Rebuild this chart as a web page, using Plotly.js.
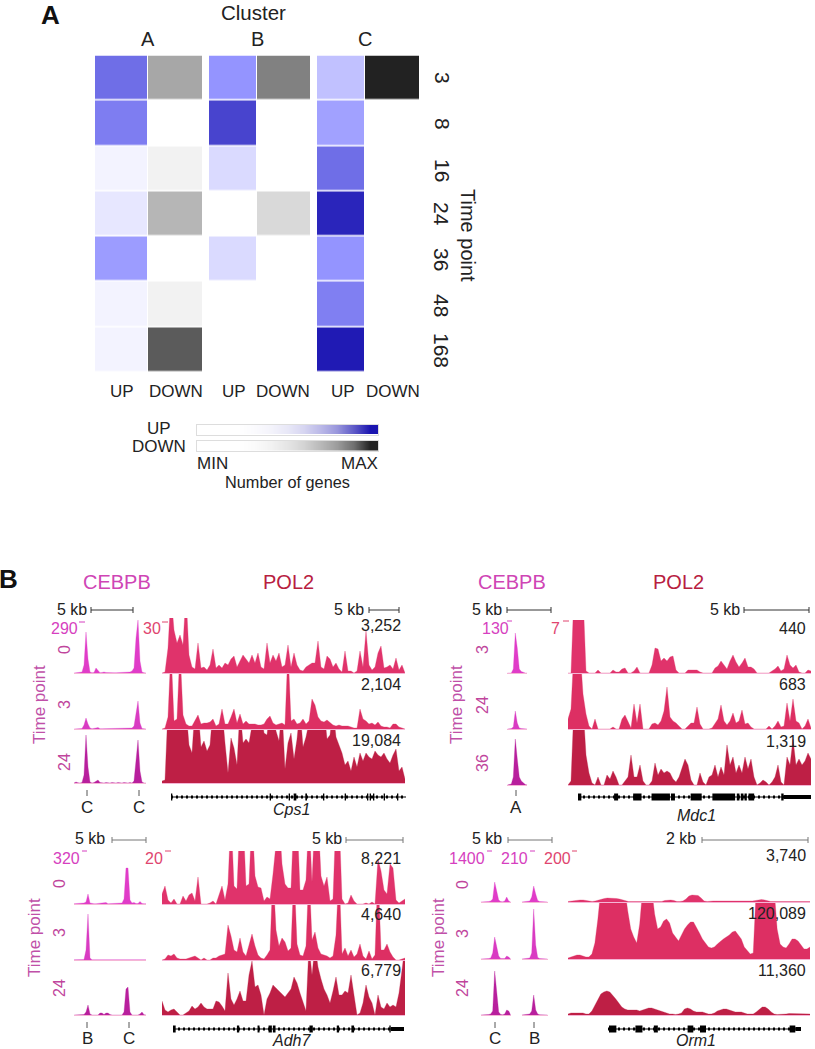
<!DOCTYPE html>
<html><head><meta charset="utf-8">
<script src="https://cdn.plot.ly/plotly-3.0.1.min.js"></script>
<style>html,body{margin:0;padding:0;background:#fff}</style></head>
<body><div id="chart" style="width:815px;height:1049px"></div>
<script>
// ---------- Panel A values ----------
const timePoints = ['3','8','16','24','36','48','168'];
const clusterAUp   = [0.58,0.51,0.045,0.09,0.37,0.045,0.045];
const clusterADown = [0.40,null,0.06,0.33,null,0.06,0.74];
const clusterBUp   = [0.40,0.775,0.14,null,0.14,null,null];
const clusterBDown = [0.57,null,null,0.17,null,null,null];
const clusterCUp   = [0.23,0.35,0.58,0.92,0.40,0.50,0.97];
const clusterCDown = [1,null,null,null,null,null,null];
const legendUpRamp   = [0,0,0,0.02,0.05,0.1,0.18,0.3,0.45,0.7,1];
const legendDownRamp = [0,0,0,0.02,0.06,0.12,0.2,0.32,0.45,0.65,1];

// ---------- Panel B: CEBPB signal ----------
const cps1Cebpb0 = [0,.3,.3,.5,1,8,41,14,1,.3,.5,5,2,.3,.5,1,.5,.3,.3,.3,.3,.3,.3,.3,.3,.3,.5,.5,1,2,5,35,53,12,1,.3,0];
const cps1Cebpb3 = [0,.3,.3,.3,.5,4,11,5,1,.3,.3,1,1.5,.3,.3,.3,.3,.3,.3,.3,.3,.3,.3,.3,.3,.3,.3,.3,.5,1,3,14,28,6,.5,.3,0];
const cps1Cebpb24 = [0,1,.3,0,.5,8,48,16,1,0,.5,2,3,.5,0,0,.5,0,0,.5,0,0,.5,0,0,.5,0,0,.5,0,2,20,43,12,1,0,0];
const mdc1Cebpb3 = [0,0,0,4,40,25,4,1.5,.5,0,0];
const mdc1Cebpb24 = [0,.3,.5,2,18,6,1,.5,.3,.3,0];
const mdc1Cebpb36 = [0,.3,1,8,46,26,8,4,2,.5,0];
const adh7Cebpb0 = [.3,.3,.3,1,.3,1,2,10,1,.3,.3,.3,.5,1,.5,1,1.5,.3,.3,.3,.3,.3,.5,1,1,5,36,36,4,1,1.5,.5,.5,2.5,.5,.3,.3];
const adh7Cebpb3 = [.3,.3,.3,.3,.3,.5,10,46,2,.3,.3,.3,.5,.5,.5,1,1,.5,1,1,.5,1,.5,.5,1,.5,1,1,.5,1,1,.5,1,1,.3,.3,.3];
const adh7Cebpb24 = [0,0,0,0,0,.5,3,10,1,0,0,0,0,2,2,.5,2,2,.5,0,0,0,0,0,0,3,26,28,3,0,0,.5,0,1,3,.3,0];
const orm1CebpbC0 = [0,0,.3,.3,.5,1,3,20,12,2,.5,.3,1,5,1,0];
const orm1CebpbC3 = [0,0,.3,.3,.5,1,6,22,14,3,.5,.3,.5,3,2,0];
const orm1CebpbC24 = [0,0,.3,.3,.5,1,4,44,24,3,.5,.3,1,5,4,0];
const orm1CebpbB0 = [0,.3,.5,.5,1,5,16,8,1.5,.5,.3,.3,.3,0];
const orm1CebpbB3 = [0,.3,.5,.5,1,6,50,14,1.5,.5,.3,.3,.3,0];
const orm1CebpbB24 = [0,.3,.3,.5,1,4,20,5,1,.3,.3,.3,.3,0];

// ---------- Panel B: POL2 signal ----------
const cps1Pol0 = [0,1,25,80,43,30,38,28,80,18,6,4,30,5,6,3,8,24,5,8,5,10,8,14,17,6,12,18,14,10,18,10,20,6,4,30,10,18,12,20,6,8,28,6,20,8,3,2,6,8,10,10,32,6,4,17,14,6,10,4,1,22,2,2,0,2,22,6,42,8,3,6,20,27,5,6,8,4,15,3,8,0];
const cps1Pol3 = [0,1,12,80,8,10,80,14,5,3,3,8,14,5,6,6,7,10,3,5,20,5,5,12,20,6,15,5,8,5,5,5,4,4,5,10,13,6,4,5,6,4,80,8,10,5,6,10,5,8,30,24,12,8,7,9,6,4,3,4,3,3,3,2,1,1,20,10,8,5,6,4,7,3,2,2,1,5,5,2,1,0];
const cps1Pol24 = [2,3,75,75,75,75,75,75,75,38,30,75,75,36,42,32,38,75,75,75,75,40,10,45,35,18,75,40,44,40,75,75,75,75,50,48,75,75,52,42,75,14,40,50,24,44,75,36,46,75,75,75,75,75,75,44,48,75,46,38,30,18,22,12,26,16,30,22,30,26,24,32,28,26,30,24,20,28,34,12,16,4];
const mdc1Pol3 = [0,0,80,80,80,80,2,0,0,0,3,0,0,0,0,3,1,1,4,5,0,0,2,6,0,0,0,0,8,25,24,12,15,12,16,17,3,0,0,0,3,3,3,3,1,0,0,0,0,5,7,12,8,4,12,18,11,6,10,15,6,6,4,0,0,0,0,0,2,4,7,2,4,18,8,5,8,1,0,0,3,2];
const mdc1Pol24 = [10,20,80,80,80,35,15,3,0,10,0,0,0,0,0,2,0,0,10,14,8,1,25,6,25,0,0,0,5,6,4,8,18,42,12,8,6,3,0,0,3,6,6,22,5,0,0,0,1,6,10,24,8,4,8,16,6,8,19,5,6,2,0,0,0,0,0,3,0,3,8,2,3,26,8,30,8,6,0,3,10,1];
const mdc1Pol36 = [0,4,80,80,80,80,30,12,2,0,8,0,0,10,6,14,8,0,0,4,8,30,8,8,20,4,0,0,4,22,10,16,12,14,12,6,3,8,18,26,20,5,0,0,12,3,0,8,10,20,8,18,10,40,20,28,12,20,12,28,16,26,8,0,2,5,3,0,3,8,20,3,0,28,20,46,20,26,20,24,32,26];
const adh7Pol0 = [10,18,4,1,5,0,0,8,3,9,11,3,27,0,0,0,1,3,0,9,18,4,20,90,18,15,90,90,18,20,90,28,17,16,3,7,5,30,90,90,40,20,16,16,90,90,14,14,24,90,22,90,90,28,18,27,3,5,90,90,5,0,1,9,3,0,0,0,1,0,2,0,45,33,14,10,40,36,4,1,3,5];
const adh7Pol3 = [0,1,5,4,6,2,1,1,1,2,3,4,2,0,2,0,0,2,2,4,5,6,35,24,10,8,22,8,4,15,26,14,5,2,1,5,10,90,30,14,22,18,9,12,90,16,5,4,14,90,20,28,12,6,5,4,2,4,25,90,6,12,4,10,3,6,16,4,1,9,1,5,90,10,10,16,8,3,0,0,1,2];
const adh7Pol24 = [14,5,3,5,6,3,0,0,2,4,9,6,8,12,8,6,6,6,14,13,9,4,42,16,10,16,24,14,14,40,54,28,30,20,0,16,22,30,27,24,20,18,22,26,38,32,22,12,4,70,40,70,48,36,26,20,12,24,38,20,20,24,22,40,20,0,2,12,30,18,12,0,20,8,6,12,8,10,8,22,45,70];
const orm1Pol0 = [.5,1,1.5,2,2,2,1.5,.5,.5,1,2,3,3.5,4,4,4,3.5,3,2,1,.5,.5,.5,.5,.5,1,1,1,1,.5,.5,.5,1.5,2,2,1.5,.5,.5,1,3,6,7,7,6.5,4,1,.5,1,1,1,1,.5,.5,.5,.5,.5,.5,.5,.5,.5,.5,1,1.5,2,2.5,2,1,.5,.5,.5,.5,.5,.5,.5,.5,.5,.5,.5,.5,.5,.5];
const orm1Pol3 = [1,2,3,4,4,3,2,2,5,16,40,70,70,70,70,70,70,70,70,70,48,30,22,16,35,70,70,70,70,45,30,32,38,40,36,26,22,18,24,30,34,37,37,32,26,20,16,12,11,12,15,18,20,22,24,27,28,24,20,12,8,5,6,70,70,70,70,70,70,70,30,15,12,11,15,20,20,18,14,10,10,12];
const orm1Pol24 = [1,2,2,2,2,2,1,1,4,10,16,21,23,24,23,20,16,12,8,6,5,5,5,5,4,5,6,7,7,6,5,4,3,2,1,1,.5,1,2,6,7,6,4,3,3,3,2,1,1,2,4,5,6,6,5,4,3,3,3,2,1,1,1,3,6,8,8,6,3,1,.5,.5,.5,1,1.5,1.5,1,1,1,1,1,1];

// ---------- Gene models: exon [start, end] on each gene's own position scale ----------
const cps1Exons = [[0,4],[296,300],[353,357],[368,376],[403,408],[456,460],[521,525],[588,592],[596,600],[606,610],[638,642],[678,682]];
const cps1Length = 705;
const mdc1Exons = [[0,10],[108,120],[165,190],[220,275],[278,290],[337,370],[402,470],[475,483],[487,495],[498,505],[510,527],[608,615]];
const mdc1Utr = [[615,697]];
const mdc1Length = 697;
const adh7Exons = [[0,8],[192,199],[254,260],[287,297],[300,308],[410,420],[492,499],[536,544],[650,654]];
const adh7Utr = [[654,694]];
const adh7Length = 694;
const orm1Exons = [[3,25],[82,103],[137,149],[238,255],[275,293],[543,560]];
const orm1Utr = [[560,577]];
const orm1Length = 577;

// ---------- Layout helpers ----------
const W = 815, H = 1049;
const FONT = '"Liberation Sans", Arial, sans-serif';
const layout = {width:W,height:H,autosize:false,margin:{l:0,r:0,t:0,b:0},showlegend:false,
  paper_bgcolor:'#fff',plot_bgcolor:'rgba(0,0,0,0)',font:{family:FONT,color:'#222'},annotations:[],shapes:[]};
const traces = [];
let axisCount = 0;
const px = v => v / W, py = v => 1 - v / H;
function axes(x0,x1,top,bottom,xOpt,yOpt){
  axisCount++;
  const s = axisCount === 1 ? '' : String(axisCount);
  const base = {showgrid:false,zeroline:false,showticklabels:false,ticks:'',showline:false};
  layout['xaxis'+s] = Object.assign({},base,{domain:[px(x0),px(x1)],anchor:'y'+s},xOpt||{});
  layout['yaxis'+s] = Object.assign({},base,{domain:[py(bottom),py(top)],anchor:'x'+s},yOpt||{});
  return {xaxis:'x'+s,yaxis:'y'+s};
}
function label(text,x,y,o){
  o = o || {};
  layout.annotations.push({text:text,x:px(x),y:py(y),xref:'paper',yref:'paper',showarrow:false,
    xanchor:o.anchor||'center',yanchor:'middle',textangle:o.angle||0,borderpad:0,
    font:{family:FONT,size:o.size||16,color:o.color||'#222',weight:o.weight||'normal',style:o.style||'normal'}});
}
function rule(x0,y0,x1,y1,color,width){
  layout.shapes.push({type:'line',xref:'paper',yref:'paper',x0:px(x0),x1:px(x1),y0:py(y0),y1:py(y1),
    line:{color:color||'#333',width:width||1}});
}
function scaleBar(x0,x1,y,color){
  rule(x0,y,x1,y,color); rule(x0,y-3,x0,y+3,color); rule(x1,y-3,x1,y+3,color);
}

// ---------- Panel A ----------
const upScale = [[0,'#ffffff'],[0.4,'#9494ff'],[1,'#1a14b0']];
const downScale = [[0,'#ffffff'],[1,'#222222']];
const rowTop = 55.5, rowBottom = 372.5;
const heatColumns = [
  [clusterAUp,95,148,upScale,'UP',122],[clusterADown,148,203,downScale,'DOWN',176],
  [clusterBUp,209,257,upScale,'UP',234],[clusterBDown,257,311,downScale,'DOWN',283],
  [clusterCUp,317,365,upScale,'UP',343],[clusterCDown,365,419.5,downScale,'DOWN',393]];
heatColumns.forEach(c=>{
  const a = axes(c[1],c[2],rowTop,rowBottom,{type:'category'},{type:'category',autorange:'reversed'});
  traces.push(Object.assign({type:'heatmap',x:[c[4]],y:timePoints,z:c[0].map(v=>[v]),colorscale:c[3],
    zmin:0,zmax:1,showscale:false,xgap:1,ygap:1.5,hoverinfo:'skip'},a));
  label(c[4],c[5],391,{size:17});
});
label('A',50,15,{size:26,weight:'bold',color:'#111'});
label('Cluster',254,13,{size:20.5});
label('A',148,39,{size:20}); label('B',257,39,{size:20}); label('C',365,39,{size:20});
const rowCentres = [78,124,170,214,259,305,350];
timePoints.forEach((t,i)=>label(t,442,rowCentres[i],{size:21,angle:90}));
label('Time point',468,235,{size:20,angle:90});

function ramp(values,colors,top,bottom){
  const a = axes(197,378,top,bottom,{showline:true,mirror:true,linecolor:'#dddddd',linewidth:1},
    {showline:true,mirror:true,linecolor:'#dddddd',linewidth:1});
  traces.push(Object.assign({type:'heatmap',z:[values,values],colorscale:colors,zmin:0,zmax:1,
    zsmooth:'best',showscale:false,hoverinfo:'skip'},a));
}
ramp(legendUpRamp,[[0,'#ffffff'],[1,'#1a14b0']],425,434.5);
ramp(legendDownRamp,[[0,'#ffffff'],[1,'#222222']],441,450.5);
label('UP',159,428,{size:17}); label('DOWN',159,446,{size:17});
label('MIN',212,463,{size:17}); label('MAX',359,463,{size:17}); label('Number of genes',287,482,{size:16.3});

// ---------- Panel B ----------
const CEB = ['#e03cc8','#d93bc2','#b81f9d'];
const POLC = ['#e0336b','#dd2f63','#be1f45'];
function track(values,x0,x1,top,bottom,color){
  const n = values.length - 1;
  const a = axes(x0,x1,top,bottom,
    {range:[0,n],showline:true,linecolor:'#f5b5d5',linewidth:1},{range:[0,bottom-top]});
  traces.push(Object.assign({type:'scatter',mode:'lines',y:values,x0:0,dx:1,fill:'tozeroy',
    fillcolor:color,line:{color:color,width:0.3},hoverinfo:'skip'},a));
}
function gene(length,exons,utr,x0,x1,y){
  const a = axes(x0,x1,y-6,y+6,{range:[0,length]},{range:[-1,1]});
  const common = {type:'scatter',mode:'lines',hoverinfo:'skip'};
  traces.push(Object.assign({},common,{x:[0,length],y:[0,0],line:{color:'#000',width:1}},a));
  traces.push(Object.assign({},common,{x:[0,length],y:[0,0],line:{color:'#000',width:3,dash:'2px,3px'}},a));
  const seg = (list) => {const xs=[],ys=[];list.forEach(e=>{xs.push(e[0],e[1],null);ys.push(0,0,null);});return {xs,ys};};
  const e = seg(exons);
  traces.push(Object.assign({},common,{x:e.xs,y:e.ys,line:{color:'#000',width:7}},a));
  if(utr.length){const u = seg(utr);
    traces.push(Object.assign({},common,{x:u.xs,y:u.ys,line:{color:'#000',width:4}},a));}
}
function panel(rows,cebpb,pol,polX){
  [2,1,0].forEach(i=>{
    const r = rows[i];
    cebpb.forEach(c=>track(c.rows[i],c.x0,c.x1,r[0],r[1],CEB[i]));
    track(pol[i],polX[0],polX[1],r[0],r[1],POLC[i]);
  });
}
panel([[618,673],[673,729],[729,783]],
  [{x0:74,x1:146,rows:[cps1Cebpb0,cps1Cebpb3,cps1Cebpb24]}],
  [cps1Pol0,cps1Pol3,cps1Pol24],[162,405]);
panel([[620,673],[673,729],[729,785]],
  [{x0:507.3,x1:527.3,rows:[mdc1Cebpb3,mdc1Cebpb24,mdc1Cebpb36]}],
  [mdc1Pol3,mdc1Pol24,mdc1Pol36],[568,811]);
panel([[851,904],[904,960],[960,1015]],
  [{x0:74,x1:146,rows:[adh7Cebpb0,adh7Cebpb3,adh7Cebpb24]}],
  [adh7Pol0,adh7Pol3,adh7Pol24],[162,405]);
panel([[848,902],[902,959],[959,1015]],
  [{x0:480.7,x1:510.7,rows:[orm1CebpbC0,orm1CebpbC3,orm1CebpbC24]},
   {x0:521.7,x1:547.7,rows:[orm1CebpbB0,orm1CebpbB3,orm1CebpbB24]}],
  [orm1Pol0,orm1Pol3,orm1Pol24],[568,810]);
gene(cps1Length,cps1Exons,[],171,406,797);
gene(mdc1Length,mdc1Exons,mdc1Utr,578,811,797);
gene(adh7Length,adh7Exons,adh7Utr,173,404,1029);
gene(orm1Length,orm1Exons,orm1Utr,608,801,1029);

const MAG = '#d63fc0', CRIM = '#e0456f', TP = '#c0459c', TPL = {angle:-90,color:'#c050a8',size:17};
label('B',8,579,{size:26,weight:'bold',color:'#111'});
[[117,288],[512,678]].forEach(p=>{
  label('CEBPB',p[0],582,{size:20,color:'#cf45b5'});
  label('POL2',p[1],582,{size:20,color:'#b8203f'});
});
// Cps1
label('5 kb',72,609); scaleBar(91,133,610);
label('5 kb',349,609); scaleBar(369,399,610);
label('290',64,628,{color:MAG}); rule(79,622,85,622,MAG);
label('30',152,628,{color:CRIM}); rule(162,622,168,622,CRIM);
label('3,252',402,625,{anchor:'right'}); label('2,104',402,684,{anchor:'right'}); label('19,084',402,740,{anchor:'right'});
label('Time point',39,705,TPL);
label('0',64,650,{angle:-90,color:TP}); label('3',64,705,{angle:-90,color:TP}); label('24',64,762,{angle:-90,color:TP});
rule(87,790,87,796,'#555'); rule(139,790,139,796,'#555');
label('C',87,807,{size:17}); label('C',139,807,{size:17});
label('Cps1',291,809,{style:'italic'});
// Mdc1
label('5 kb',487,609); scaleBar(507,551,610);
label('5 kb',725,609); scaleBar(744,809,610);
label('130',495,628,{color:MAG}); rule(507,621,512,621,MAG);
label('7',555,628,{color:CRIM}); rule(563,621,569,621,CRIM);
label('440',807,628,{anchor:'right'}); label('683',807,684,{anchor:'right'}); label('1,319',807,741,{anchor:'right'});
label('Time point',456,705,TPL);
label('3',482,650,{angle:-90,color:TP}); label('24',482,705,{angle:-90,color:TP}); label('36',482,763,{angle:-90,color:TP});
rule(516,790,516,796,'#555'); label('A',516,807,{size:17});
label('Mdc1',696,815,{style:'italic'});
// Adh7
label('5 kb',90,838); scaleBar(112,146,840,'#777');
label('5 kb',327,838); scaleBar(346,403,840,'#777');
label('320',66,858,{color:MAG}); rule(82,851,87,851,MAG);
label('20',154,858,{color:CRIM}); rule(165,851,171,851,CRIM);
label('8,221',402,858,{anchor:'right'}); label('4,640',402,914,{anchor:'right'}); label('6,779',402,970,{anchor:'right'});
label('Time point',34,938,TPL);
label('0',59,884,{angle:-90,color:TP}); label('3',59,933,{angle:-90,color:TP}); label('24',59,988,{angle:-90,color:TP});
rule(87,1022,87,1028,'#555'); rule(129,1022,129,1028,'#555');
label('B',87,1038,{size:17}); label('C',129,1038,{size:17});
label('Adh7',291,1040,{style:'italic'});
// Orm1
label('5 kb',487,838); scaleBar(508,552,840,'#777');
label('2 kb',681,838); scaleBar(702,808,840,'#777');
label('1400',467,858,{color:MAG}); rule(487,851,492,851,MAG);
label('210',514,858,{color:MAG}); rule(530,851,535,851,MAG);
label('200',557,858,{color:CRIM}); rule(572,851,577,851,CRIM);
label('3,740',807,855,{anchor:'right'}); label('120,089',807,913,{anchor:'right'}); label('11,360',807,970,{anchor:'right'});
label('Time point',438,938,TPL);
label('0',462,884,{angle:-90,color:TP}); label('3',462,933,{angle:-90,color:TP}); label('24',462,988,{angle:-90,color:TP});
rule(495,1022,495,1028,'#555'); rule(534,1022,534,1028,'#555');
label('C',495,1038,{size:17}); label('B',534,1038,{size:17});
label('Orm1',696,1040,{style:'italic'});

Plotly.newPlot('chart',traces,layout,{displayModeBar:false,staticPlot:true});
</script></body></html>
